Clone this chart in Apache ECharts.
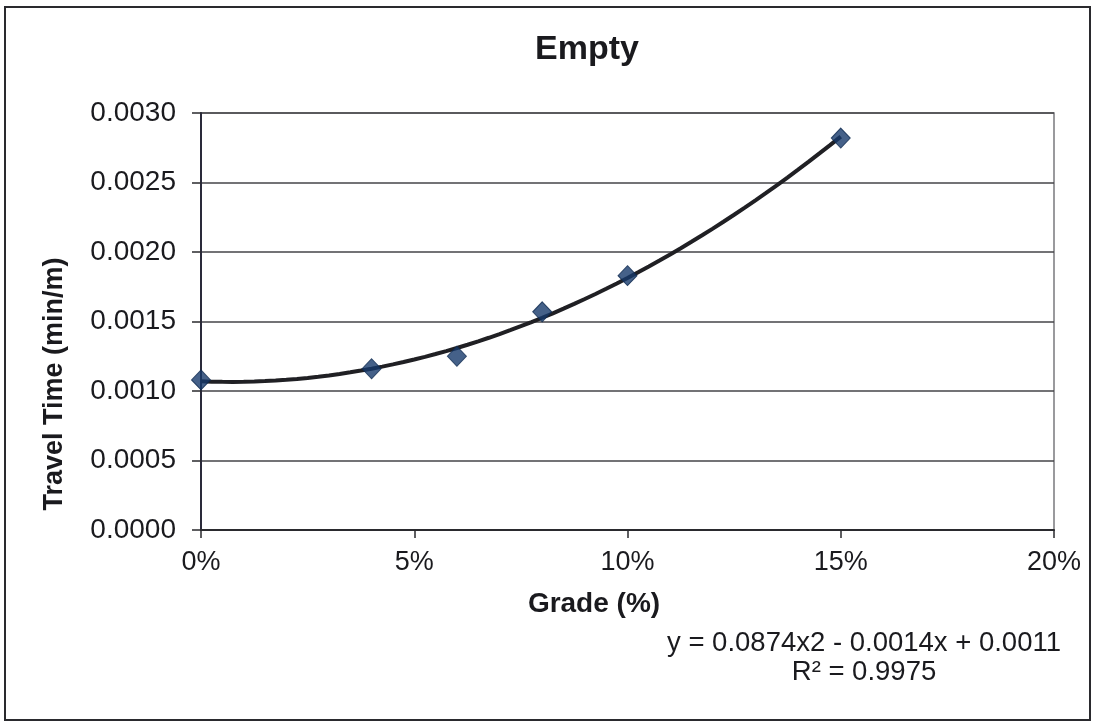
<!DOCTYPE html>
<html>
<head>
<meta charset="utf-8">
<script src="https://cdn.jsdelivr.net/npm/echarts@6/dist/echarts.min.js"></script>
<style>
  html, body { margin: 0; padding: 0; background: #ffffff; }
  #chart { width: 1113px; height: 722px; }
</style>
</head>
<body>
<div id="chart"></div>
<script>
// ---- Data ----
const grades = [0, 4, 6, 8, 10, 15];                                   // Grade (%)
const travelTimes = [0.00108, 0.00116, 0.00125, 0.00157, 0.00183, 0.00282]; // min/m
const chartTitle = 'Empty';
const xAxisTitle = 'Grade (%)';
const yAxisTitle = 'Travel Time (min/m)';
const equationLines = ['y = 0.0874x2 - 0.0014x + 0.0011', 'R² = 0.9975'];

// ---- Polynomial (order 2) trendline: least-squares fit of the data ----
function quadFit(xs, ys) {
  let S = [0, 0, 0, 0, 0], T = [0, 0, 0];
  for (let i = 0; i < xs.length; i++) {
    let p = 1;
    for (let k = 0; k < 5; k++) { S[k] += p; if (k < 3) T[k] += p * ys[i]; p *= xs[i]; }
  }
  const A = [[S[0], S[1], S[2], T[0]], [S[1], S[2], S[3], T[1]], [S[2], S[3], S[4], T[2]]];
  for (let c = 0; c < 3; c++) {
    for (let r = c + 1; r < 3; r++) {
      const f = A[r][c] / A[c][c];
      for (let k = c; k < 4; k++) A[r][k] -= f * A[c][k];
    }
  }
  const b = [0, 0, 0];
  for (let r = 2; r >= 0; r--) {
    let s = A[r][3];
    for (let k = r + 1; k < 3; k++) s -= A[r][k] * b[k];
    b[r] = s / A[r][r];
  }
  return b;
}
const coef = quadFit(grades, travelTimes);
const trend = [];
const xStart = grades[0], xEnd = grades[grades.length - 1];
for (let i = 0; i <= 60; i++) {
  const x = xStart + (xEnd - xStart) * i / 60;
  trend.push([x, coef[0] + coef[1] * x + coef[2] * x * x]);
}

const chart = echarts.init(document.getElementById('chart'), null, { renderer: 'canvas' });
const FONT = '"Liberation Sans", Arial, sans-serif';
const TXT = '#1a1a1e';

chart.setOption({
  animation: false,
  backgroundColor: '#ffffff',
  grid: {
    left: 201, right: 59, top: 113, bottom: 192,
    show: true, borderColor: '#7a7a7e', borderWidth: 1.5, backgroundColor: 'transparent'
  },
  xAxis: {
    type: 'value', min: 0, max: 20, interval: 5,
    axisLine: { show: true, onZero: false, lineStyle: { color: '#2a2a2e', width: 2 } },
    axisTick: { show: true, length: 8, lineStyle: { color: '#2a2a2e', width: 1.5 } },
    axisLabel: { margin: 19, color: TXT, fontFamily: FONT, fontSize: 27, formatter: v => v + '%' },
    splitLine: { show: false }
  },
  yAxis: {
    type: 'value', min: 0, max: 0.003, interval: 0.0005,
    axisLine: { show: true, lineStyle: { color: '#2a2a3a', width: 2 } },
    axisTick: { show: true, length: 9, lineStyle: { color: '#2a2a2e', width: 1.5 } },
    axisLabel: { margin: 25, color: TXT, fontFamily: FONT, fontSize: 28, formatter: v => v.toFixed(4) },
    splitLine: { show: true, lineStyle: { color: '#444448', width: 1.5 } }
  },
  series: [
    {
      type: 'line', data: trend, showSymbol: false, smooth: false,
      lineStyle: { color: '#202024', width: 4 }, z: 2, silent: true
    },
    {
      type: 'scatter', data: grades.map((g, i) => [g, travelTimes[i]]),
      symbol: 'diamond', symbolSize: [19, 20],
      itemStyle: { color: '#163a6c', borderColor: '#0f2a50', borderWidth: 1 }, z: 3
    }
  ],
  graphic: [
    { type: 'text', x: 587, y: 50, style: { text: chartTitle, fill: TXT, font: 'bold 34px ' + FONT, textAlign: 'center', textVerticalAlign: 'middle' } },
    { type: 'text', x: 594, y: 604, style: { text: xAxisTitle, fill: TXT, font: 'bold 28px ' + FONT, textAlign: 'center', textVerticalAlign: 'middle' } },
    { type: 'text', x: 55, y: 384, rotation: Math.PI / 2, style: { text: yAxisTitle, fill: TXT, font: 'bold 27px ' + FONT, textAlign: 'center', textVerticalAlign: 'middle' } },
    { type: 'text', x: 864, y: 643, style: { text: equationLines[0], fill: TXT, font: '27.5px ' + FONT, textAlign: 'center', textVerticalAlign: 'middle' } },
    { type: 'text', x: 864, y: 672, style: { text: equationLines[1], fill: TXT, font: '27.5px ' + FONT, textAlign: 'center', textVerticalAlign: 'middle' } },
    { type: 'rect', shape: { x: 5, y: 7, width: 1085, height: 713 }, style: { fill: 'none', stroke: '#2a2a2e', lineWidth: 2 }, silent: true }
  ]
});
</script>
</body>
</html>
